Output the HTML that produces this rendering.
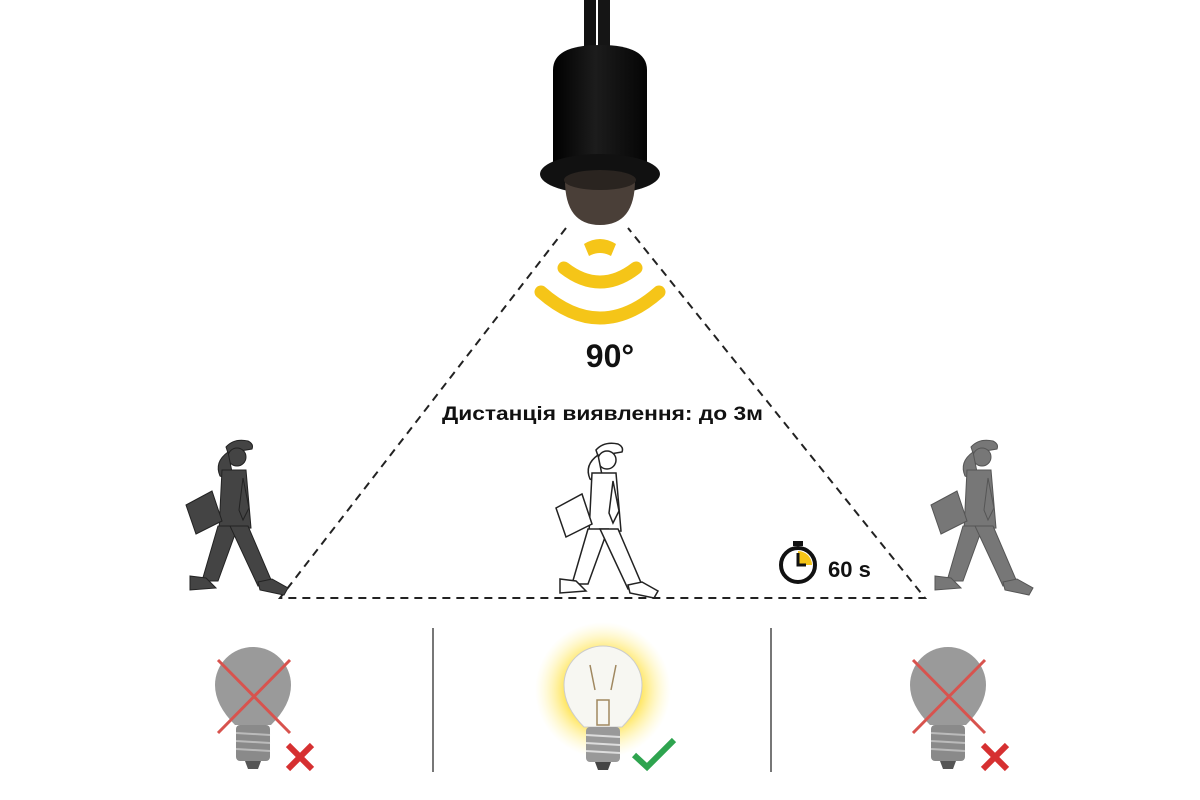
<!DOCTYPE html>
<html><head><meta charset="utf-8"><style>
html,body{margin:0;padding:0;background:#fff;}
svg{display:block;}
text{font-family:"Liberation Sans",sans-serif;font-weight:bold;fill:#111;}
</style></head><body>
<svg width="1200" height="800" viewBox="0 0 1200 800" xmlns="http://www.w3.org/2000/svg">
<defs>
<radialGradient id="glow" cx="0.5" cy="0.5" r="0.5">
<stop offset="0.55" stop-color="#ffe24a" stop-opacity="0.9"/>
<stop offset="1" stop-color="#fff6b0" stop-opacity="0"/>
</radialGradient>
<linearGradient id="body" x1="0" x2="1">
<stop offset="0" stop-color="#000"/><stop offset="0.45" stop-color="#1c1c1c"/><stop offset="1" stop-color="#050505"/>
</linearGradient>
<g id="person">
<path d="M226 447 q8-9 22-6 q6 3 4 8 l-24 4z"/>
<circle cx="237" cy="457" r="9"/>
<path d="M228 452 q-14 10 -8 24 q6 4 12-4z"/>
<path d="M222 470 l24 0 l5 58 l-32 2z"/>
<path d="M186 505 l26-14 l10 30 l-26 13z"/>
<path d="M218 526 l20 0 l-20 55 l-16 0z"/>
<path d="M230 526 l18 0 l24 56 l-14 4z"/>
<path d="M190 576 l16 2 l10 10 l-26 2z"/>
<path d="M258 582 l14-3 l16 9 l-4 7 l-24-5z"/>
<path d="M243 478 l6 30 l-6 12 l-4-10z"/>
</g>
</defs>

<!-- cable -->
<rect x="584" y="0" width="12" height="48" fill="#111"/>
<rect x="598" y="0" width="12" height="48" fill="#151515"/>
<!-- body -->
<path d="M553 70 q0-25 47-25 q47 0 47 25 l0 95 l-94 0z" fill="url(#body)"/>
<ellipse cx="600" cy="174" rx="60" ry="20" fill="#111"/>
<path d="M565 180 q0 45 35 45 q35 0 35-45z" fill="#4a3f38"/>
<ellipse cx="600" cy="180" rx="36" ry="10" fill="#2a2420"/>

<!-- waves (downward-facing) -->
<path d="M584 244 q16 -10 32 0 l-5 12 q-11 -6 -22 0z" fill="#f5c518"/>
<g fill="none" stroke="#f5c518" stroke-width="13" stroke-linecap="round">
<path d="M564 268 q36 28 72 0"/>
<path d="M541 292 q59 52 118 0"/>
</g>

<!-- triangle -->
<g stroke="#222" stroke-width="2" stroke-dasharray="8,6" fill="none">
<path d="M566 228 L280 598 L925 598 L628 228"/>
</g>

<text x="610" y="367" font-size="32" text-anchor="middle">90°</text>
<text x="442" y="420" font-size="19" textLength="321" lengthAdjust="spacingAndGlyphs">Дистанція виявлення: до 3м</text>

<!-- people -->
<use href="#person" fill="#444" stroke="#222" stroke-width="1"/>
<use href="#person" transform="translate(370,3)" fill="#fff" stroke="#222" stroke-width="1.5"/>
<use href="#person" transform="translate(745,0)" fill="#777" stroke="#555" stroke-width="1"/>

<!-- timer -->
<circle cx="798" cy="565" r="17" fill="#fff" stroke="#111" stroke-width="4"/>
<rect x="793" y="541" width="10" height="5" fill="#111"/>
<path d="M798 565 L798 551 A14 14 0 0 1 812 565 Z" fill="#f5c518"/>
<path d="M798 553 L798 565 L806 565" stroke="#111" stroke-width="3" fill="none"/>
<text x="828" y="577" font-size="22">60 s</text>

<!-- dividers -->
<line x1="433" y1="628" x2="433" y2="772" stroke="#777" stroke-width="2"/>
<line x1="771" y1="628" x2="771" y2="772" stroke="#777" stroke-width="2"/>

<!-- bulbs -->
<g id="b1">
<path d="M235 725 q-20-20-20-40 a38 38 0 1 1 76 0 q0 20-20 40z" fill="#9a9a9a"/>
<rect x="236" y="725" width="34" height="36" rx="4" fill="#8a8a8a"/>
<g stroke="#bbb" stroke-width="2"><line x1="236" y1="733" x2="270" y2="735"/><line x1="236" y1="741" x2="270" y2="743"/><line x1="236" y1="749" x2="270" y2="751"/></g>
<path d="M245 761 h16 l-3 8 h-10z" fill="#555"/>
</g>
<g stroke="#d8534e" stroke-width="3"><line x1="218" y1="660" x2="290" y2="733"/><line x1="290" y1="660" x2="218" y2="733"/></g>
<g stroke="#d63031" stroke-width="6"><line x1="288" y1="745" x2="312" y2="769"/><line x1="312" y1="745" x2="288" y2="769"/></g>

<use href="#b1" transform="translate(695,0)"/>
<g stroke="#d8534e" stroke-width="3"><line x1="913" y1="660" x2="985" y2="733"/><line x1="985" y1="660" x2="913" y2="733"/></g>
<g stroke="#d63031" stroke-width="6"><line x1="983" y1="745" x2="1007" y2="769"/><line x1="1007" y1="745" x2="983" y2="769"/></g>

<circle cx="603" cy="690" r="68" fill="url(#glow)"/>
<path d="M584 727 q-20-20-20-42 a39 39 0 1 1 78 0 q0 22-20 42z" fill="#f7f7f2" stroke="#ccc"/>
<path d="M595 690 l-5 -25 M611 690 l5 -25 M597 700 h12 v25 h-12z" stroke="#a08860" fill="none" stroke-width="1.5"/>
<rect x="586" y="727" width="34" height="35" rx="4" fill="#999"/>
<g stroke="#ddd" stroke-width="2"><line x1="586" y1="735" x2="620" y2="737"/><line x1="586" y1="743" x2="620" y2="745"/><line x1="586" y1="751" x2="620" y2="753"/></g>
<path d="M595 762 h16 l-3 8 h-10z" fill="#444"/>
<path d="M634 755 l13 12 l27 -27" stroke="#2ea44f" stroke-width="6" fill="none"/>
</svg>
</body></html>
